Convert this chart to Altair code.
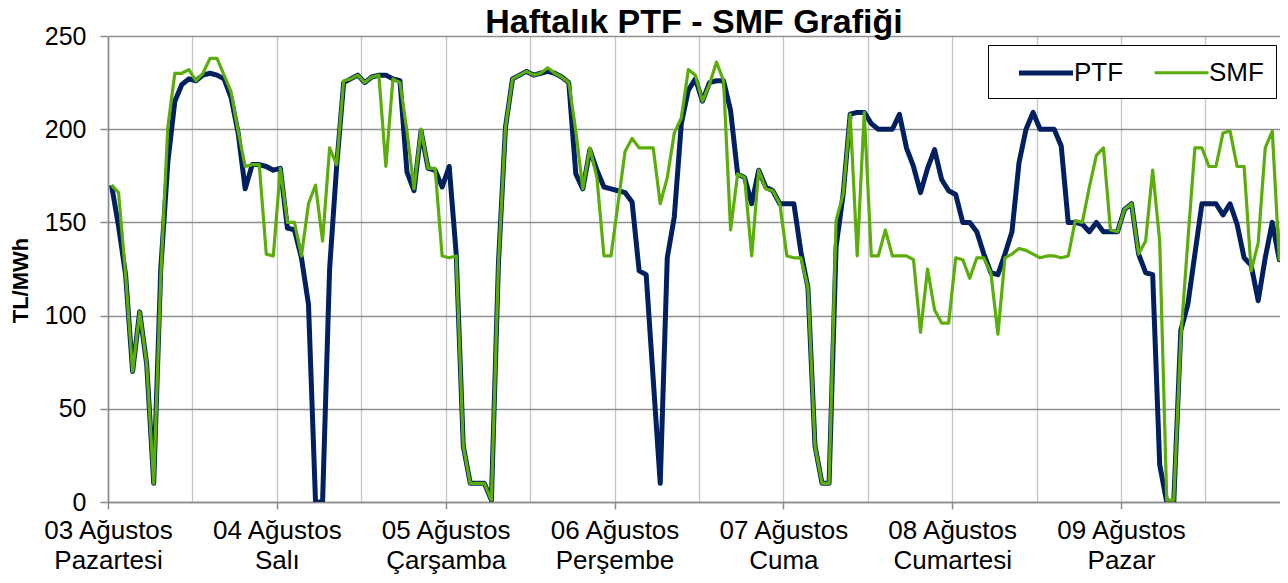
import altair as alt
import pandas as pd

# Hourly values, 7 days x 24 hours (03-09 Ağustos)
ptf = [
    170, 148, 122, 70, 102, 74, 10, 125, 182, 215, 224, 227, 226, 229, 230, 229, 227, 217, 198, 168, 181, 181, 180, 178,
    179, 147, 146, 131, 106, 0, 0, 125, 180, 225, 227, 229, 225, 228, 229, 229, 227, 226, 177, 167, 199, 179, 178, 169,
    180, 133, 30, 10, 10, 10, 1, 128, 201, 227, 229, 231, 229, 230, 231, 230, 228, 225, 176, 168, 189, 178, 169, 168,
    167, 166, 161, 124, 122, 66, 10, 131, 153, 203, 221, 227, 215, 225, 226, 226, 210, 176, 174, 160, 178, 169, 167, 160,
    160, 160, 134, 115, 30, 10, 10, 137, 165, 208, 209, 209, 203, 200, 200, 200, 208, 190, 180, 166, 179, 189, 173, 167,
    165, 150, 150, 145, 133, 123, 122, 133, 145, 182, 200, 209, 200, 200, 200, 191, 150, 150, 149, 145, 150, 145, 145, 145,
    157, 160, 133, 123, 122, 20, 0, 0, 92, 106, 133, 160, 160, 160, 154, 160, 149, 131, 127, 108, 131, 150, 130, 132,
]
smf = [
    170, 166, 122, 70, 102, 74, 10, 121, 201, 230, 230, 232, 226, 230, 238, 238, 229, 220, 199, 180, 181, 181, 133, 132,
    179, 150, 150, 132, 160, 170, 140, 190, 181, 226, 227, 229, 225, 228, 229, 180, 227, 225, 199, 168, 200, 179, 179, 132,
    131, 132, 30, 10, 10, 10, 1, 128, 201, 227, 229, 231, 229, 230, 233, 230, 228, 225, 199, 168, 190, 174, 132, 132,
    160, 188, 195, 190, 190, 190, 160, 174, 198, 206, 232, 229, 215, 224, 236, 226, 146, 176, 174, 132, 178, 168, 167, 160,
    132, 131, 131, 115, 30, 10, 10, 151, 165, 208, 132, 209, 132, 132, 146, 132, 132, 132, 130, 91, 125, 103, 96, 96,
    131, 130, 120, 131, 131, 123, 90, 131, 133, 136, 135, 133, 131, 132, 132, 131, 132, 151, 150, 169, 186, 190, 146, 145,
    157, 160, 133, 140, 178, 140, 1, 1, 88, 140, 190, 190, 180, 180, 198, 199, 180, 180, 124, 139, 190, 199, 130, 190,
]
day_dates = ["03 Ağustos", "04 Ağustos", "05 Ağustos", "06 Ağustos", "07 Ağustos", "08 Ağustos", "09 Ağustos"]
day_names = ["Pazartesi", "Salı", "Çarşamba", "Perşembe", "Cuma", "Cumartesi", "Pazar"]
series_names = ["PTF", "SMF"]
series_colors = ["#002060", "#5BAD0B"]
series_widths = [5, 3.2]
y_ticks = [0, 50, 100, 150, 200, 250]

rows = []
for name, vals in zip(series_names, [ptf, smf]):
    for h, v in enumerate(vals):
        rows.append({"hour": h + 0.5, "series": name, "value": v})
df = pd.DataFrame(rows)

label_expr = "".join(
    f"datum.value == {24 * k} ? ['{d}', '{n}'] : " for k, (d, n) in enumerate(zip(day_dates, day_names))
) + "''"

FONT = "Liberation Sans"

x_axis = alt.Axis(
    values=list(range(0, 168, 12)),
    labelExpr=label_expr,
    labelFont=FONT,
    labelFontSize=26,
    labelColor="black",
    labelLineHeight=30,
    labelOverlap=False,
    labelFlush=False,
    labelPadding=8,
    grid=True,
    gridColor="#c4c4c4",
    gridWidth=1.3,
    domainColor="#8a8a8a",
    domainWidth=1.6,
    tickSize=7,
    tickWidth=1.5,
    tickColor={"condition": {"test": "datum.value % 24 == 0", "value": "#8a8a8a"}, "value": "transparent"},
    title=None,
)

y_axis = alt.Axis(
    values=y_ticks,
    labelFont=FONT,
    labelFontSize=25,
    labelColor="black",
    labelPadding=14,
    grid=True,
    gridColor="#8f8f8f",
    gridWidth=1.6,
    domainColor="#8a8a8a",
    domainWidth=1.6,
    tickColor="#8a8a8a",
    tickSize=8,
    tickWidth=1.5,
    title="TL/MWh",
    titleFont=FONT,
    titleFontSize=22,
    titleFontWeight="bold",
    titleColor="black",
    titleAngle=270,
    titleAlign="center",
    titleBaseline="middle",
    titleX=-88,
    titleY=244,
)

legend = alt.Legend(
    title=None,
    orient="none",
    legendX=880,
    legendY=9,
    direction="horizontal",
    symbolType="M-2,0H2",
    symbolSize=729,
    symbolOffset=30,
    labelFont=FONT,
    labelFontSize=26,
    labelColor="black",
    labelOffset=12,
    columnPadding=12,
    padding=12,
    strokeColor="black",
    fillColor="white",
)

chart = alt.Chart(df).mark_line(clip=True, strokeJoin="round").encode(
    x=alt.X("hour:Q", scale=alt.Scale(domain=[0, 166.6], nice=False, zero=False), axis=x_axis),
    y=alt.Y("value:Q", scale=alt.Scale(domain=[0, 250], nice=False), axis=y_axis),
    color=alt.Color("series:N", scale=alt.Scale(domain=series_names, range=series_colors), legend=legend),
    strokeWidth=alt.StrokeWidth("series:N", scale=alt.Scale(domain=series_names, range=series_widths), legend=legend),
).properties(
    width=1172,
    height=466,
    title=alt.TitleParams(
        "Haftalık PTF - SMF Grafiği",
        font=FONT,
        fontSize=34,
        fontWeight="bold",
        color="black",
        anchor="middle",
        offset=-16,
    ),
    autosize=alt.AutoSizeParams(type="none"),
    padding={"left": 100, "top": 28, "right": 0, "bottom": 81},
    background="white",
).configure_view(stroke=None)

chart.save("out.html", embed_options={"renderer": "svg", "actions": False})
